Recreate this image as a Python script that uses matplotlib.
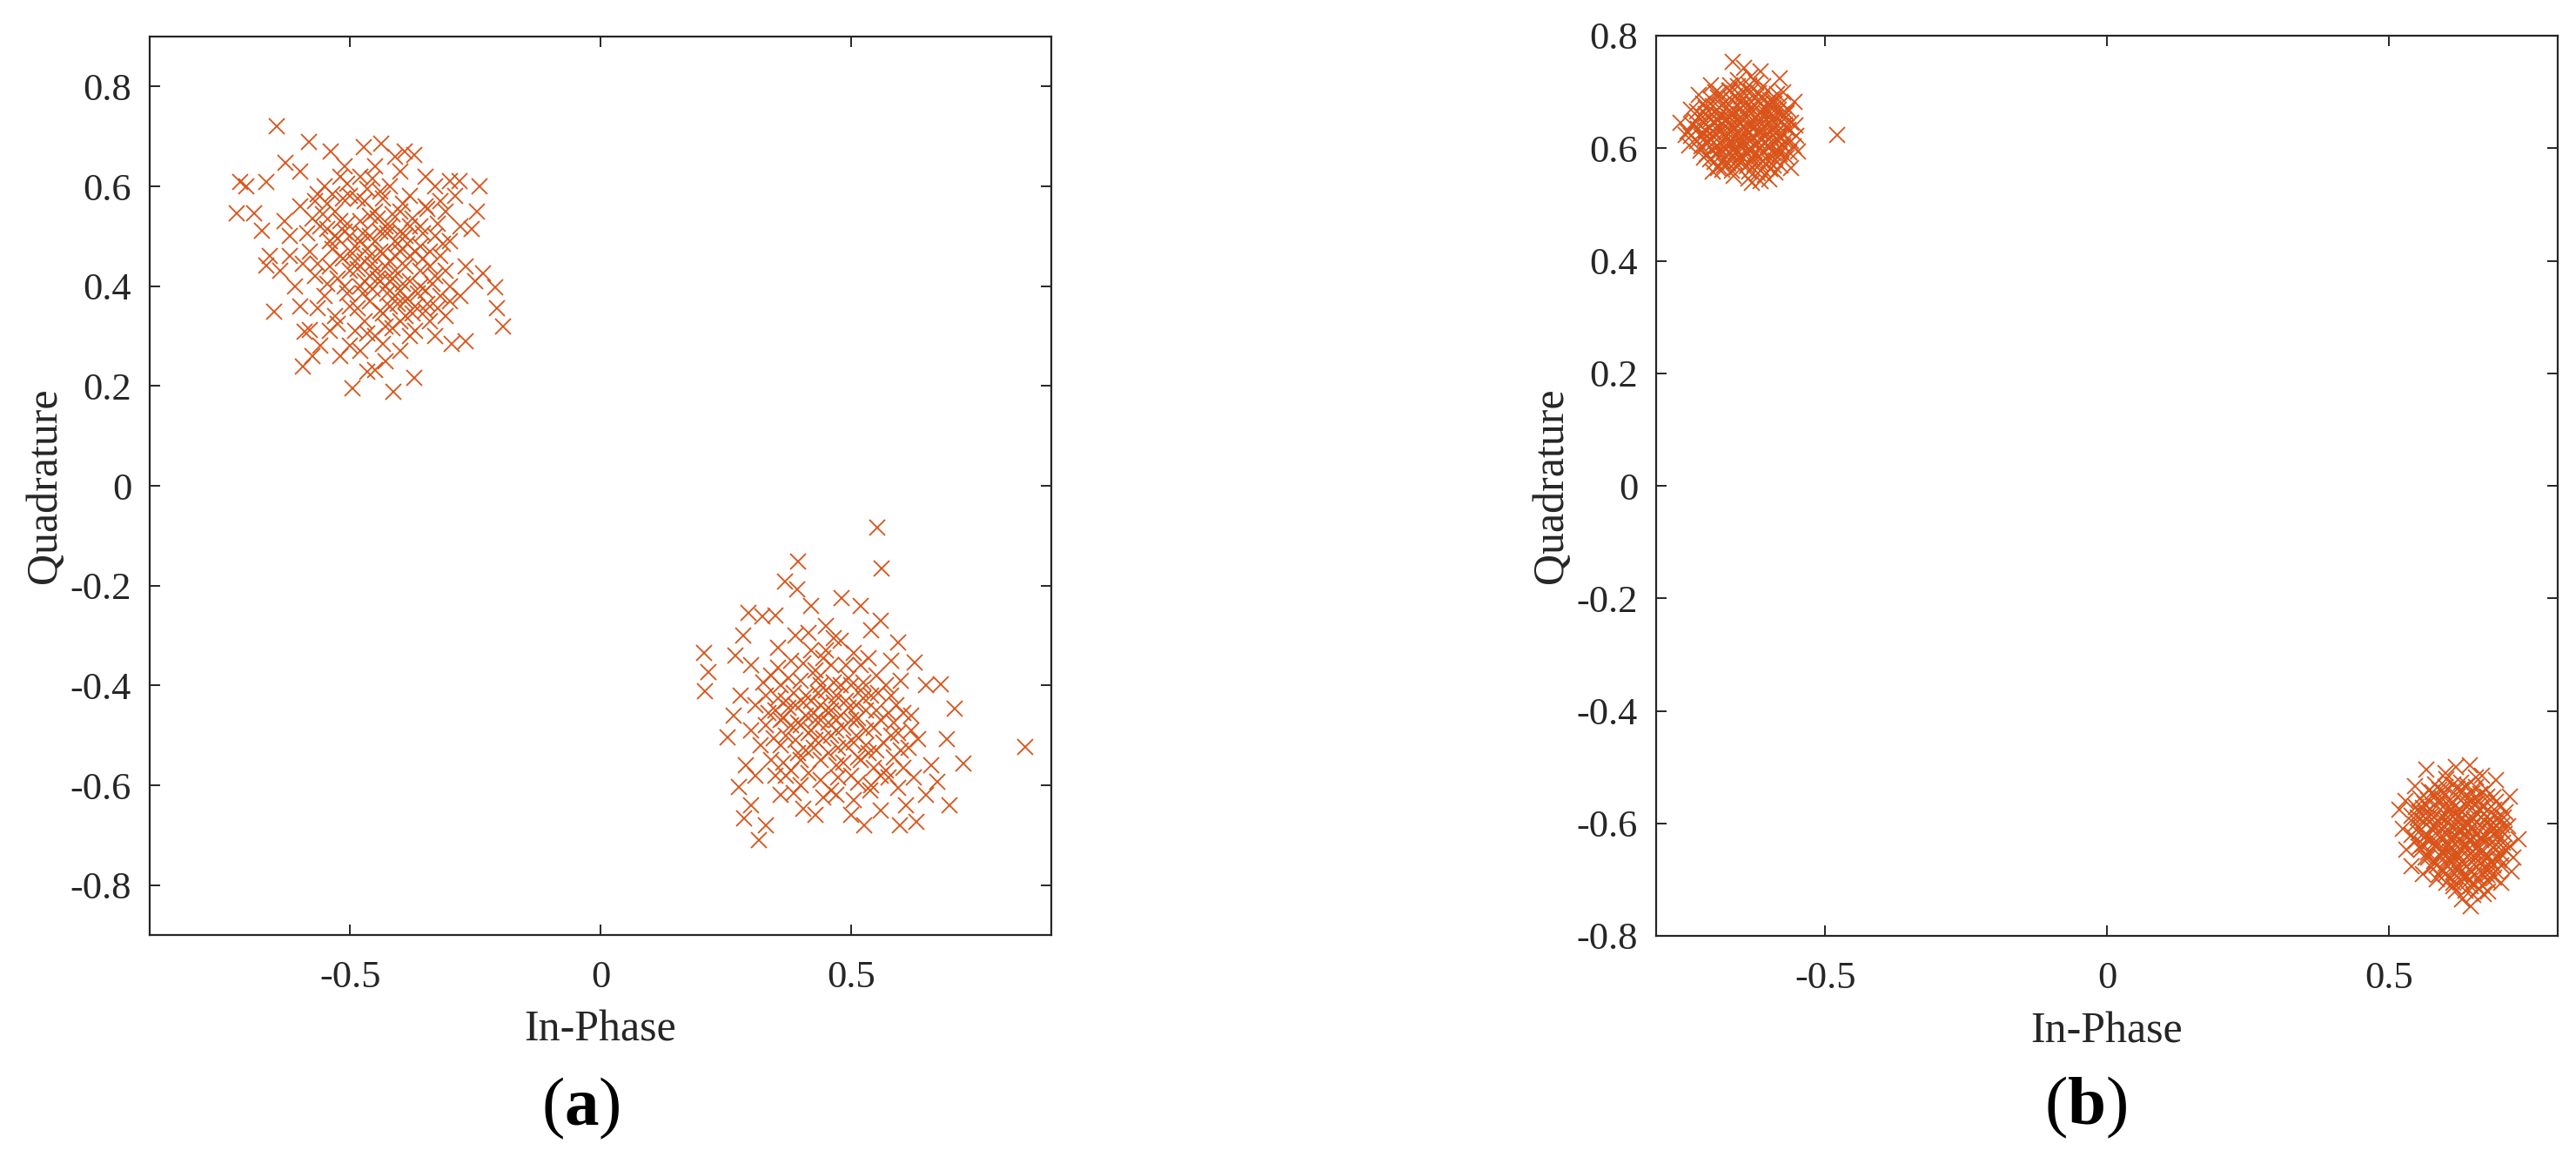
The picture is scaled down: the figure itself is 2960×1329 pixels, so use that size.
import matplotlib.pyplot as plt
from matplotlib.ticker import FuncFormatter

plt.rcParams['font.family'] = ['Liberation Serif', 'DejaVu Serif']
plt.rcParams['axes.unicode_minus'] = False
plt.rcParams['mathtext.fontset'] = 'custom'
plt.rcParams['mathtext.rm'] = 'Liberation Serif'
plt.rcParams['mathtext.bf'] = 'Liberation Serif:bold'

# (a) upper-left cloud, (In-Phase, Quadrature)
a_top = [
    (-0.646, 0.720), (-0.719, 0.608), (-0.727, 0.546), (-0.692, 0.546), (-0.708, 0.600),
    (-0.668, 0.608), (-0.629, 0.647), (-0.600, 0.630), (-0.582, 0.689), (-0.539, 0.670),
    (-0.510, 0.640), (-0.473, 0.678), (-0.437, 0.685), (-0.410, 0.660), (-0.391, 0.670),
    (-0.371, 0.662), (-0.400, 0.630), (-0.450, 0.640), (-0.330, 0.600), (-0.300, 0.610),
    (-0.281, 0.611), (-0.242, 0.600), (-0.246, 0.549), (-0.258, 0.515), (-0.290, 0.580),
    (-0.310, 0.550), (-0.280, 0.520), (-0.300, 0.490), (-0.234, 0.425), (-0.211, 0.398),
    (-0.207, 0.355), (-0.195, 0.320), (-0.250, 0.410), (-0.270, 0.440), (-0.280, 0.380),
    (-0.300, 0.370), (-0.310, 0.340), (-0.297, 0.285), (-0.330, 0.300), (-0.270, 0.290),
    (-0.371, 0.216), (-0.414, 0.188), (-0.496, 0.196), (-0.465, 0.228), (-0.450, 0.232),
    (-0.430, 0.250), (-0.594, 0.239), (-0.575, 0.260), (-0.560, 0.280), (-0.520, 0.260),
    (-0.480, 0.270), (-0.400, 0.270), (-0.380, 0.300), (-0.652, 0.348), (-0.590, 0.309),
    (-0.580, 0.312), (-0.668, 0.441), (-0.676, 0.511), (-0.660, 0.460), (-0.640, 0.430),
    (-0.620, 0.500), (-0.630, 0.530), (-0.600, 0.560), (-0.610, 0.400), (-0.600, 0.360),
    (-0.620, 0.460), (-0.350, 0.620), (-0.320, 0.570), (-0.540, 0.310), (-0.500, 0.280),
    (-0.56, 0.52), (-0.54, 0.49), (-0.53, 0.55), (-0.52, 0.46), (-0.51, 0.51),
    (-0.50, 0.58), (-0.50, 0.43), (-0.49, 0.48), (-0.48, 0.53), (-0.48, 0.40),
    (-0.47, 0.45), (-0.47, 0.57), (-0.46, 0.50), (-0.46, 0.37), (-0.45, 0.43),
    (-0.45, 0.55), (-0.44, 0.47), (-0.44, 0.35), (-0.43, 0.52), (-0.43, 0.40),
    (-0.42, 0.45), (-0.42, 0.60), (-0.41, 0.38), (-0.41, 0.49), (-0.40, 0.55),
    (-0.40, 0.33), (-0.39, 0.44), (-0.39, 0.50), (-0.38, 0.41), (-0.38, 0.58),
    (-0.37, 0.47), (-0.37, 0.36), (-0.36, 0.52), (-0.36, 0.43), (-0.35, 0.39),
    (-0.35, 0.56), (-0.34, 0.47), (-0.34, 0.33), (-0.33, 0.50), (-0.33, 0.42),
    (-0.58, 0.47), (-0.57, 0.42), (-0.57, 0.57), (-0.55, 0.38), (-0.55, 0.60),
    (-0.54, 0.44), (-0.53, 0.34), (-0.52, 0.62), (-0.51, 0.40), (-0.50, 0.36),
    (-0.49, 0.31), (-0.48, 0.62), (-0.47, 0.33), (-0.46, 0.42), (-0.45, 0.30),
    (-0.44, 0.59), (-0.43, 0.32), (-0.42, 0.36), (-0.41, 0.43), (-0.40, 0.47),
    (-0.39, 0.37), (-0.38, 0.52), (-0.37, 0.31), (-0.36, 0.48), (-0.35, 0.35),
    (-0.34, 0.44), (-0.32, 0.46), (-0.32, 0.38), (-0.31, 0.43), (-0.30, 0.40),
    (-0.53, 0.50), (-0.49, 0.45), (-0.46, 0.46), (-0.45, 0.49), (-0.43, 0.44),
    (-0.42, 0.41), (-0.41, 0.46), (-0.40, 0.39), (-0.44, 0.41), (-0.47, 0.41),
    (-0.52, 0.53), (-0.50, 0.50), (-0.48, 0.49), (-0.46, 0.54), (-0.44, 0.51),
    (-0.42, 0.52), (-0.40, 0.51), (-0.38, 0.46), (-0.36, 0.40), (-0.39, 0.34),
    (-0.555, 0.545), (-0.545, 0.515), (-0.535, 0.475), (-0.525, 0.495), (-0.515, 0.455),
    (-0.505, 0.525), (-0.495, 0.465), (-0.485, 0.435), (-0.475, 0.505), (-0.465, 0.475),
    (-0.455, 0.445), (-0.445, 0.415), (-0.435, 0.465), (-0.425, 0.385), (-0.415, 0.415),
    (-0.405, 0.365), (-0.395, 0.405), (-0.385, 0.375), (-0.375, 0.345), (-0.365, 0.385),
    (-0.565, 0.585), (-0.545, 0.565), (-0.515, 0.575), (-0.505, 0.605), (-0.465, 0.595),
    (-0.455, 0.615), (-0.435, 0.575), (-0.415, 0.545), (-0.395, 0.565), (-0.375, 0.535),
    (-0.355, 0.505), (-0.345, 0.555), (-0.325, 0.525), (-0.315, 0.485), (-0.355, 0.455),
    (-0.335, 0.405), (-0.345, 0.365), (-0.325, 0.355), (-0.415, 0.315), (-0.435, 0.285),
    (-0.465, 0.305), (-0.485, 0.355), (-0.505, 0.385), (-0.525, 0.415), (-0.545, 0.405),
    (-0.565, 0.445), (-0.585, 0.505), (-0.595, 0.445), (-0.565, 0.355), (-0.525, 0.325),
    (-0.475, 0.385), (-0.455, 0.395), (-0.435, 0.345), (-0.405, 0.485), (-0.385, 0.485),
    (-0.425, 0.505), (-0.445, 0.535), (-0.485, 0.575), (-0.535, 0.585), (-0.575, 0.535),
]

# (a) lower-right cloud
a_bottom = [
    (0.553, -0.083), (0.561, -0.166), (0.395, -0.151), (0.369, -0.191), (0.393, -0.207),
    (0.481, -0.225), (0.206, -0.335), (0.216, -0.374), (0.208, -0.411), (0.848, -0.523),
    (0.725, -0.557), (0.708, -0.447), (0.679, -0.397), (0.692, -0.507), (0.696, -0.640),
    (0.672, -0.593), (0.631, -0.673), (0.598, -0.680), (0.527, -0.680), (0.501, -0.660),
    (0.317, -0.710), (0.287, -0.666), (0.276, -0.603), (0.404, -0.647), (0.253, -0.504),
    (0.270, -0.340), (0.296, -0.254), (0.323, -0.261), (0.595, -0.314), (0.628, -0.354),
    (0.649, -0.400), (0.635, -0.507), (0.538, -0.610), (0.300, -0.640), (0.290, -0.560),
    (0.265, -0.460), (0.285, -0.300), (0.350, -0.260), (0.420, -0.240), (0.450, -0.280),
    (0.520, -0.240), (0.540, -0.290), (0.560, -0.270), (0.600, -0.390), (0.660, -0.560),
    (0.610, -0.640), (0.560, -0.650), (0.470, -0.620), (0.430, -0.660), (0.360, -0.620),
    (0.330, -0.680), (0.310, -0.580), (0.280, -0.420), (0.300, -0.360), (0.580, -0.420),
    (0.620, -0.460), (0.650, -0.620), (0.505, -0.630), (0.440, -0.590), (0.370, -0.580),
    (0.35, -0.45), (0.36, -0.40), (0.37, -0.50), (0.38, -0.35), (0.39, -0.44),
    (0.40, -0.48), (0.40, -0.39), (0.41, -0.53), (0.42, -0.43), (0.42, -0.33),
    (0.43, -0.47), (0.44, -0.40), (0.44, -0.55), (0.45, -0.45), (0.46, -0.36),
    (0.46, -0.50), (0.47, -0.42), (0.48, -0.46), (0.48, -0.31), (0.49, -0.52),
    (0.50, -0.40), (0.50, -0.47), (0.51, -0.44), (0.52, -0.36), (0.52, -0.55),
    (0.53, -0.49), (0.54, -0.42), (0.55, -0.53), (0.55, -0.38), (0.56, -0.47),
    (0.57, -0.57), (0.58, -0.50), (0.59, -0.44), (0.33, -0.48), (0.34, -0.38),
    (0.34, -0.55), (0.36, -0.52), (0.37, -0.43), (0.38, -0.57), (0.39, -0.30),
    (0.41, -0.46), (0.43, -0.51), (0.45, -0.41), (0.47, -0.49), (0.49, -0.43),
    (0.51, -0.50), (0.53, -0.45), (0.46, -0.45), (0.44, -0.47), (0.42, -0.49),
    (0.40, -0.55), (0.38, -0.48), (0.43, -0.37), (0.47, -0.56), (0.50, -0.58),
    (0.54, -0.60), (0.57, -0.40), (0.60, -0.53), (0.31, -0.44), (0.32, -0.52),
    (0.45, -0.33), (0.49, -0.36), (0.52, -0.41), (0.55, -0.45), (0.62, -0.49),
    (0.58, -0.35), (0.36, -0.47), (0.39, -0.51), (0.48, -0.40), (0.51, -0.47),
    (0.44, -0.44), (0.47, -0.47), (0.41, -0.42), (0.53, -0.52), (0.56, -0.58),
    (0.35, -0.58), (0.40, -0.60), (0.46, -0.61), (0.30, -0.49), (0.33, -0.42),
    (0.355, -0.425), (0.365, -0.465), (0.375, -0.445), (0.385, -0.415), (0.395, -0.475),
    (0.405, -0.435), (0.415, -0.495), (0.425, -0.455), (0.435, -0.415), (0.445, -0.505),
    (0.455, -0.475), (0.465, -0.435), (0.475, -0.525), (0.485, -0.485), (0.495, -0.445),
    (0.505, -0.515), (0.515, -0.465), (0.525, -0.425), (0.535, -0.535), (0.545, -0.485),
    (0.565, -0.515), (0.575, -0.455), (0.585, -0.545), (0.595, -0.495), (0.605, -0.565),
    (0.615, -0.525), (0.575, -0.585), (0.545, -0.565), (0.515, -0.545), (0.485, -0.555),
    (0.455, -0.535), (0.425, -0.525), (0.395, -0.535), (0.365, -0.555), (0.345, -0.505),
    (0.335, -0.455), (0.325, -0.395), (0.355, -0.365), (0.375, -0.385), (0.405, -0.355),
    (0.435, -0.385), (0.465, -0.395), (0.495, -0.385), (0.525, -0.395), (0.555, -0.415),
    (0.585, -0.475), (0.605, -0.455), (0.625, -0.585), (0.595, -0.605), (0.515, -0.595),
    (0.475, -0.585), (0.445, -0.625), (0.415, -0.575), (0.385, -0.615), (0.355, -0.325),
    (0.445, -0.345), (0.505, -0.335), (0.535, -0.345), (0.465, -0.305), (0.415, -0.295),
]

# (b) upper-left cloud
b_top = [
    (-0.478, 0.624), (-0.664, 0.754), (-0.581, 0.724), (-0.614, 0.736), (-0.644, 0.742),
    (-0.724, 0.695), (-0.757, 0.645), (-0.748, 0.624), (-0.715, 0.583), (-0.700, 0.559),
    (-0.614, 0.541), (-0.561, 0.565), (-0.548, 0.594), (-0.554, 0.683), (-0.569, 0.662),
    (-0.630, 0.538), (-0.600, 0.545), (-0.680, 0.570), (-0.742, 0.605), (-0.738, 0.668),
    (-0.702, 0.712), (-0.632, 0.728), (-0.551, 0.622), (-0.553, 0.640), (-0.575, 0.700),
    (-0.668, 0.712), (-0.641, 0.706), (-0.622, 0.716), (-0.603, 0.703), (-0.655, 0.721),
    (-0.688, 0.698), (-0.659, 0.694), (-0.632, 0.701), (-0.611, 0.689), (-0.586, 0.697),
    (-0.703, 0.687), (-0.676, 0.683), (-0.648, 0.691), (-0.627, 0.678), (-0.598, 0.686),
    (-0.577, 0.679), (-0.712, 0.671), (-0.684, 0.676), (-0.663, 0.668), (-0.638, 0.674),
    (-0.614, 0.666), (-0.592, 0.672), (-0.566, 0.668), (-0.721, 0.659), (-0.697, 0.664),
    (-0.671, 0.656), (-0.646, 0.661), (-0.622, 0.654), (-0.597, 0.659), (-0.573, 0.652),
    (-0.731, 0.648), (-0.703, 0.651), (-0.682, 0.643), (-0.657, 0.649), (-0.633, 0.641),
    (-0.609, 0.647), (-0.584, 0.640), (-0.561, 0.646), (-0.726, 0.634), (-0.707, 0.638),
    (-0.688, 0.629), (-0.662, 0.636), (-0.637, 0.628), (-0.613, 0.634), (-0.588, 0.627),
    (-0.566, 0.633), (-0.738, 0.622), (-0.714, 0.618), (-0.693, 0.624), (-0.667, 0.615),
    (-0.643, 0.621), (-0.621, 0.613), (-0.596, 0.619), (-0.571, 0.612), (-0.719, 0.604),
    (-0.698, 0.609), (-0.676, 0.601), (-0.652, 0.607), (-0.628, 0.599), (-0.603, 0.605),
    (-0.578, 0.598), (-0.556, 0.604), (-0.711, 0.589), (-0.689, 0.594), (-0.664, 0.586),
    (-0.641, 0.592), (-0.617, 0.585), (-0.592, 0.591), (-0.569, 0.584), (-0.697, 0.576),
    (-0.672, 0.572), (-0.648, 0.578), (-0.625, 0.571), (-0.601, 0.577), (-0.579, 0.569),
    (-0.683, 0.561), (-0.657, 0.566), (-0.634, 0.559), (-0.611, 0.564), (-0.588, 0.557),
    (-0.662, 0.551), (-0.636, 0.546), (-0.607, 0.553), (-0.650, 0.645), (-0.640, 0.632),
    (-0.655, 0.625), (-0.628, 0.650), (-0.645, 0.610), (-0.668, 0.640), (-0.620, 0.625),
    (-0.635, 0.665), (-0.660, 0.600), (-0.615, 0.600),
    (-0.695, 0.700), (-0.670, 0.703), (-0.645, 0.700), (-0.617, 0.698), (-0.592, 0.686),
    (-0.717, 0.680), (-0.692, 0.668), (-0.652, 0.682), (-0.625, 0.688), (-0.600, 0.675),
    (-0.727, 0.665), (-0.708, 0.655), (-0.677, 0.660), (-0.650, 0.670), (-0.605, 0.662),
    (-0.578, 0.660), (-0.735, 0.640), (-0.715, 0.645), (-0.692, 0.650), (-0.670, 0.646),
    (-0.621, 0.642), (-0.596, 0.650), (-0.572, 0.642), (-0.745, 0.630), (-0.718, 0.628),
    (-0.700, 0.632), (-0.675, 0.628), (-0.650, 0.635), (-0.625, 0.636), (-0.600, 0.632),
    (-0.576, 0.625), (-0.728, 0.612), (-0.705, 0.617), (-0.680, 0.610), (-0.655, 0.614),
    (-0.633, 0.612), (-0.608, 0.610), (-0.583, 0.612), (-0.561, 0.612), (-0.722, 0.596),
    (-0.700, 0.598), (-0.685, 0.596), (-0.660, 0.593), (-0.635, 0.596), (-0.610, 0.592),
    (-0.585, 0.598), (-0.563, 0.592), (-0.705, 0.581), (-0.680, 0.580), (-0.655, 0.578),
    (-0.630, 0.582), (-0.610, 0.577), (-0.588, 0.578), (-0.690, 0.565), (-0.665, 0.560),
    (-0.640, 0.568), (-0.620, 0.555), (-0.597, 0.563),
    (-0.690, 0.690), (-0.665, 0.685), (-0.640, 0.683), (-0.615, 0.680), (-0.590, 0.680),
    (-0.700, 0.675), (-0.675, 0.672), (-0.655, 0.676), (-0.630, 0.670), (-0.605, 0.672),
    (-0.582, 0.668), (-0.712, 0.660), (-0.688, 0.657), (-0.662, 0.660), (-0.640, 0.655),
    (-0.612, 0.658), (-0.588, 0.655), (-0.718, 0.648), (-0.695, 0.645), (-0.673, 0.652),
    (-0.645, 0.648), (-0.618, 0.645), (-0.595, 0.642), (-0.570, 0.638), (-0.712, 0.632),
    (-0.690, 0.637), (-0.665, 0.630), (-0.642, 0.637), (-0.615, 0.628), (-0.592, 0.635),
    (-0.582, 0.620), (-0.720, 0.620), (-0.700, 0.622), (-0.677, 0.620), (-0.652, 0.618),
    (-0.630, 0.620), (-0.606, 0.622), (-0.585, 0.615), (-0.710, 0.608), (-0.690, 0.603),
    (-0.668, 0.605), (-0.645, 0.600), (-0.622, 0.607), (-0.598, 0.602), (-0.575, 0.605),
    (-0.695, 0.590), (-0.672, 0.592), (-0.650, 0.588), (-0.625, 0.590), (-0.603, 0.587),
    (-0.580, 0.590), (-0.682, 0.577), (-0.660, 0.575), (-0.636, 0.572), (-0.614, 0.573),
    (-0.592, 0.570), (-0.668, 0.703), (-0.635, 0.712), (-0.610, 0.710), (-0.655, 0.710),
]

# (b) lower-right cloud
b_bottom = [
    (0.645, -0.747), (0.644, -0.496), (0.567, -0.505), (0.715, -0.552), (0.730, -0.629),
    (0.718, -0.685), (0.677, -0.721), (0.614, -0.712), (0.540, -0.676), (0.531, -0.647),
    (0.519, -0.576), (0.546, -0.534), (0.691, -0.523), (0.600, -0.510), (0.620, -0.500),
    (0.665, -0.515), (0.705, -0.590), (0.722, -0.660), (0.700, -0.705), (0.650, -0.728),
    (0.630, -0.735), (0.585, -0.700), (0.560, -0.690), (0.525, -0.610), (0.530, -0.560),
    (0.602, -0.522), (0.628, -0.528), (0.655, -0.519), (0.583, -0.531), (0.571, -0.541),
    (0.597, -0.545), (0.622, -0.538), (0.648, -0.546), (0.674, -0.540), (0.556, -0.556),
    (0.582, -0.552), (0.608, -0.559), (0.634, -0.553), (0.660, -0.561), (0.686, -0.554),
    (0.548, -0.571), (0.573, -0.575), (0.599, -0.568), (0.625, -0.574), (0.651, -0.567),
    (0.677, -0.576), (0.699, -0.569), (0.541, -0.586), (0.566, -0.582), (0.591, -0.589),
    (0.617, -0.583), (0.643, -0.591), (0.668, -0.584), (0.694, -0.590), (0.547, -0.602),
    (0.572, -0.597), (0.598, -0.605), (0.623, -0.598), (0.649, -0.606), (0.674, -0.599),
    (0.701, -0.604), (0.553, -0.616), (0.579, -0.612), (0.604, -0.619), (0.630, -0.613),
    (0.656, -0.621), (0.681, -0.614), (0.706, -0.619), (0.549, -0.632), (0.575, -0.627),
    (0.600, -0.635), (0.626, -0.628), (0.652, -0.636), (0.677, -0.629), (0.703, -0.634),
    (0.558, -0.647), (0.584, -0.642), (0.609, -0.650), (0.635, -0.643), (0.661, -0.651),
    (0.686, -0.644), (0.709, -0.649), (0.566, -0.661), (0.592, -0.657), (0.617, -0.664),
    (0.643, -0.658), (0.668, -0.666), (0.694, -0.659), (0.576, -0.677), (0.601, -0.672),
    (0.627, -0.680), (0.652, -0.673), (0.678, -0.681), (0.699, -0.674), (0.589, -0.692),
    (0.614, -0.687), (0.640, -0.695), (0.665, -0.688), (0.688, -0.696), (0.603, -0.706),
    (0.629, -0.702), (0.654, -0.709), (0.676, -0.703), (0.637, -0.719), (0.660, -0.716),
    (0.620, -0.610), (0.635, -0.620), (0.612, -0.630), (0.640, -0.600), (0.625, -0.645),
    (0.605, -0.590), (0.650, -0.625), (0.615, -0.660), (0.660, -0.640), (0.630, -0.580),
    (0.615, -0.530), (0.640, -0.533), (0.590, -0.540), (0.663, -0.548), (0.563, -0.565),
    (0.587, -0.562), (0.612, -0.566), (0.640, -0.563), (0.666, -0.570), (0.690, -0.562),
    (0.555, -0.580), (0.580, -0.590), (0.605, -0.578), (0.630, -0.592), (0.656, -0.582),
    (0.681, -0.594), (0.707, -0.580), (0.560, -0.595), (0.585, -0.602), (0.610, -0.605),
    (0.637, -0.608), (0.662, -0.604), (0.688, -0.610), (0.712, -0.605), (0.540, -0.620),
    (0.566, -0.622), (0.592, -0.625), (0.618, -0.622), (0.643, -0.630), (0.668, -0.620),
    (0.694, -0.625), (0.560, -0.638), (0.587, -0.634), (0.612, -0.642), (0.638, -0.638),
    (0.664, -0.630), (0.690, -0.638), (0.715, -0.640), (0.570, -0.652), (0.596, -0.648),
    (0.622, -0.655), (0.648, -0.650), (0.673, -0.655), (0.700, -0.655), (0.580, -0.667),
    (0.605, -0.663), (0.630, -0.668), (0.655, -0.662), (0.682, -0.668), (0.595, -0.682),
    (0.620, -0.678), (0.645, -0.685), (0.670, -0.678), (0.690, -0.685), (0.610, -0.697),
    (0.635, -0.692), (0.660, -0.698), (0.645, -0.712), (0.620, -0.720), (0.668, -0.725),
    (0.600, -0.535), (0.628, -0.540), (0.655, -0.535), (0.578, -0.545), (0.570, -0.558),
    (0.595, -0.555), (0.622, -0.552), (0.648, -0.558), (0.675, -0.552), (0.560, -0.572),
    (0.586, -0.570), (0.612, -0.575), (0.638, -0.570), (0.662, -0.577), (0.688, -0.575),
    (0.552, -0.590), (0.576, -0.585), (0.600, -0.592), (0.625, -0.585), (0.650, -0.593),
    (0.675, -0.588), (0.698, -0.595), (0.555, -0.607), (0.580, -0.603), (0.606, -0.598),
    (0.632, -0.605), (0.657, -0.598), (0.683, -0.603), (0.700, -0.612), (0.563, -0.625),
    (0.590, -0.618), (0.615, -0.625), (0.642, -0.617), (0.666, -0.626), (0.690, -0.617),
    (0.555, -0.642), (0.580, -0.635), (0.605, -0.640), (0.630, -0.635), (0.655, -0.643),
    (0.680, -0.637), (0.705, -0.643), (0.570, -0.660), (0.598, -0.655), (0.625, -0.662),
    (0.650, -0.657), (0.676, -0.660), (0.695, -0.665), (0.585, -0.675), (0.612, -0.670),
    (0.638, -0.676), (0.663, -0.672), (0.686, -0.675), (0.600, -0.690), (0.625, -0.688),
    (0.652, -0.690), (0.675, -0.692), (0.615, -0.705), (0.642, -0.703), (0.665, -0.710),
]

x_ticks = [-0.5, 0, 0.5]
y_ticks = [-0.8, -0.6, -0.4, -0.2, 0, 0.2, 0.4, 0.6, 0.8]
lim_a = (-0.9, 0.9)
lim_b = (-0.8, 0.8)

orange = '#D95319'
dark = '#262626'

fig = plt.figure(figsize=(29.6, 13.29), dpi=100)
ax_a = fig.add_axes([172 / 2960, 1 - 1074 / 1329, 1036 / 2960, 1032 / 1329])
ax_b = fig.add_axes([1903 / 2960, 1 - 1075 / 1329, 1036 / 2960, 1034 / 1329])


def draw(ax, clouds, lim):
    for cloud in clouds:
        xs = [p[0] for p in cloud]
        ys = [p[1] for p in cloud]
        ax.plot(xs, ys, 'x', color=orange, ms=13.5, mew=1.3)
    ax.set_xlim(lim)
    ax.set_ylim(lim)
    ax.set_xticks(x_ticks)
    ax.set_yticks(y_ticks)
    fmt = FuncFormatter(lambda v, _: f'{v:g}')
    ax.xaxis.set_major_formatter(fmt)
    ax.yaxis.set_major_formatter(fmt)
    ax.tick_params(direction='in', length=8.3, width=1.4, top=True, right=True,
                   labelsize=32, labelcolor=dark, color=dark)
    ax.tick_params(axis='x', pad=21)
    ax.tick_params(axis='y', pad=15)
    for s in ax.spines.values():
        s.set_linewidth(1.6)
        s.set_color(dark)
    ax.set_xlabel('In-Phase', fontsize=36, color=dark, va='baseline')
    ax.set_ylabel('Quadrature', fontsize=36, color=dark, va='baseline')
    ax.xaxis.set_label_coords(0.5, -0.118)
    ax.yaxis.set_label_coords(-0.104, 0.5)


draw(ax_a, [a_top, a_bottom], lim_a)
draw(ax_b, [b_top, b_bottom], lim_b)

fig.text(667 / 2960, 1 - 1273 / 1329, r'($\mathbf{a}$)', fontsize=57,
         ha='center', va='center', color='black')
fig.text(2397 / 2960, 1 - 1272 / 1329, r'($\mathbf{b}$)', fontsize=57,
         ha='center', va='center', color='black')

fig.savefig('out.png', dpi=100)
